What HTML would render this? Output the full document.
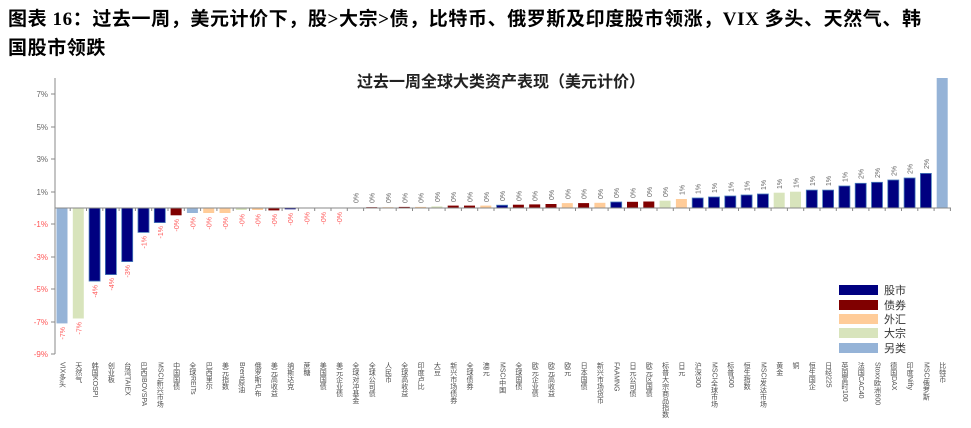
<!DOCTYPE html>
<html><head><meta charset="utf-8">
<style>
body{margin:0;width:971px;height:428px;background:#fff;position:relative;overflow:hidden;font-family:"Liberation Serif","Noto Serif CJK SC","Noto Sans CJK SC",serif;}
.h{position:absolute;left:8px;font-size:19px;letter-spacing:0.6px;font-weight:bold;color:#000;white-space:nowrap;font-family:"Liberation Serif","Noto Sans CJK SC",sans-serif;}
.xl{position:absolute;top:362px;writing-mode:vertical-rl;font-size:7px;color:#505050;font-family:"Liberation Sans","Noto Sans CJK SC",sans-serif;width:9px;line-height:9px;white-space:nowrap;}
</style></head><body>
<div class="h" style="top:4px">图表 16：过去一周，美元计价下，股&gt;大宗&gt;债，比特币、俄罗斯及印度股市领涨，VIX 多头、天然气、韩</div>
<div class="h" style="top:33px">国股市领跌</div>
<svg width="971" height="428" style="position:absolute;left:0;top:0" font-family="Liberation Sans, Noto Sans CJK SC, sans-serif">
<text x="501" y="87" font-size="16" font-weight="bold" text-anchor="middle" fill="#222">过去一周全球大类资产表现（美元计价）</text>
<g font-size="8" fill="#666" text-anchor="end">
<text x="48" y="97">7%</text><text x="48" y="130">5%</text><text x="48" y="162">3%</text><text x="48" y="195">1%</text>
<text x="48" y="227" fill="#f55">-1%</text><text x="48" y="260" fill="#f55">-3%</text><text x="48" y="292" fill="#f55">-5%</text><text x="48" y="325" fill="#f55">-7%</text><text x="48" y="357" fill="#f55">-9%</text>
</g>
<g stroke="#888" stroke-width="1">
<line x1="55" y1="78" x2="55" y2="354"/>
<line x1="51" y1="94" x2="55" y2="94"/><line x1="51" y1="127" x2="55" y2="127"/><line x1="51" y1="159" x2="55" y2="159"/><line x1="51" y1="192" x2="55" y2="192"/><line x1="51" y1="224" x2="55" y2="224"/><line x1="51" y1="257" x2="55" y2="257"/><line x1="51" y1="289" x2="55" y2="289"/><line x1="51" y1="322" x2="55" y2="322"/><line x1="51" y1="354" x2="55" y2="354"/>
</g>
<g stroke="#4a7ebb" stroke-width="0.8">
<rect x="56.5" y="208" width="11" height="115.4" fill="#95B3D7" stroke="none"/>
<rect x="72.8" y="208" width="11" height="110.5" fill="#D8E4BC" stroke="none"/>
<rect x="89.1" y="208" width="11" height="73.1" fill="#000080"/>
<rect x="105.4" y="208" width="11" height="66.6" fill="#000080"/>
<rect x="121.7" y="208" width="11" height="53.6" fill="#000080"/>
<rect x="138" y="208" width="11" height="24.4" fill="#000080"/>
<rect x="154.3" y="208" width="11" height="14.6" fill="#000080"/>
<rect x="170.6" y="208" width="11" height="7.3" fill="#800000" stroke="none"/>
<rect x="186.9" y="208" width="11" height="5" fill="#95B3D7" stroke="none"/>
<rect x="203.2" y="208" width="11" height="5" fill="#FFCC99" stroke="none"/>
<rect x="219.5" y="208" width="11" height="5" fill="#FFCC99" stroke="none"/>
<rect x="235.8" y="208" width="11" height="2" fill="#D8E4BC" stroke="none"/>
<rect x="252.1" y="208" width="11" height="2" fill="#FFCC99" stroke="none"/>
<rect x="268.4" y="208" width="11" height="2.4" fill="#800000" stroke="none"/>
<rect x="284.7" y="208" width="11" height="1.3" fill="#000080" stroke="none"/>
<rect x="349.9" y="207.5" width="11" height="0.5" fill="#95B3D7" stroke="none"/>
<rect x="366.2" y="207.2" width="11" height="0.8" fill="#800000" stroke="none"/>
<rect x="382.5" y="207.2" width="11" height="0.8" fill="#FFCC99" stroke="none"/>
<rect x="398.8" y="206.9" width="11" height="1.1" fill="#800000" stroke="none"/>
<rect x="415.1" y="206.9" width="11" height="1.1" fill="#FFCC99" stroke="none"/>
<rect x="431.4" y="206.4" width="11" height="1.6" fill="#D8E4BC" stroke="none"/>
<rect x="447.7" y="205.6" width="11" height="2.4" fill="#800000" stroke="none"/>
<rect x="464" y="205.6" width="11" height="2.4" fill="#800000" stroke="none"/>
<rect x="480.3" y="205.6" width="11" height="2.4" fill="#FFCC99" stroke="none"/>
<rect x="496.6" y="205.2" width="11" height="2.8" fill="#000080"/>
<rect x="512.9" y="204.7" width="11" height="3.3" fill="#800000" stroke="none"/>
<rect x="529.2" y="204.4" width="11" height="3.6" fill="#800000" stroke="none"/>
<rect x="545.5" y="204" width="11" height="4" fill="#800000" stroke="none"/>
<rect x="561.8" y="203.1" width="11" height="4.9" fill="#FFCC99" stroke="none"/>
<rect x="578.1" y="203.1" width="11" height="4.9" fill="#800000" stroke="none"/>
<rect x="594.4" y="202.8" width="11" height="5.2" fill="#FFCC99" stroke="none"/>
<rect x="610.7" y="202" width="11" height="6" fill="#000080"/>
<rect x="627" y="201.8" width="11" height="6.2" fill="#800000" stroke="none"/>
<rect x="643.3" y="201.5" width="11" height="6.5" fill="#800000" stroke="none"/>
<rect x="659.6" y="200.7" width="11" height="7.3" fill="#D8E4BC" stroke="none"/>
<rect x="675.9" y="199" width="11" height="9" fill="#FFCC99" stroke="none"/>
<rect x="692.2" y="198" width="11" height="10" fill="#000080"/>
<rect x="708.5" y="197" width="11" height="11" fill="#000080"/>
<rect x="724.8" y="196" width="11" height="12" fill="#000080"/>
<rect x="741.1" y="195" width="11" height="13" fill="#000080"/>
<rect x="757.4" y="194" width="11" height="14" fill="#000080"/>
<rect x="773.7" y="192.7" width="11" height="15.3" fill="#D8E4BC" stroke="none"/>
<rect x="790" y="191.7" width="11" height="16.3" fill="#D8E4BC" stroke="none"/>
<rect x="806.3" y="190.1" width="11" height="17.9" fill="#000080"/>
<rect x="822.6" y="190.1" width="11" height="17.9" fill="#000080"/>
<rect x="838.9" y="186" width="11" height="22" fill="#000080"/>
<rect x="855.2" y="183.3" width="11" height="24.7" fill="#000080"/>
<rect x="871.5" y="182.3" width="11" height="25.7" fill="#000080"/>
<rect x="887.8" y="180" width="11" height="28" fill="#000080"/>
<rect x="904.1" y="178" width="11" height="30" fill="#000080"/>
<rect x="920.4" y="173.4" width="11" height="34.6" fill="#000080"/>
<rect x="936.7" y="78" width="11" height="130" fill="#95B3D7" stroke="none"/>
</g>
<line x1="55" y1="208" x2="951" y2="208" stroke="#888" stroke-width="1"/>
<g stroke="#888" stroke-width="1">
<path d="M70.2 208v3M86.5 208v3M102.8 208v3M119.1 208v3M135.4 208v3M151.7 208v3M168 208v3M184.3 208v3M200.6 208v3M216.9 208v3M233.2 208v3M249.5 208v3M265.8 208v3M282.1 208v3M298.4 208v3M314.7 208v3M331 208v3M347.3 208v3M363.6 208v3M379.9 208v3M396.2 208v3M412.5 208v3M428.8 208v3M445.1 208v3M461.4 208v3M477.7 208v3M494 208v3M510.3 208v3M526.6 208v3M542.9 208v3M559.2 208v3M575.5 208v3M591.8 208v3M608.1 208v3M624.4 208v3M640.7 208v3M657 208v3M673.3 208v3M689.6 208v3M705.9 208v3M722.2 208v3M738.5 208v3M754.8 208v3M771.1 208v3M787.4 208v3M803.7 208v3M820 208v3M836.3 208v3M852.6 208v3M868.9 208v3M885.2 208v3M901.5 208v3M917.8 208v3M934.1 208v3M950.4 208v3"/>
</g>
<g font-size="7" fill="#ff5a5a" text-anchor="end">
<text transform="translate(65,327) rotate(-90)">-7%</text>
<text transform="translate(81.3,322) rotate(-90)">-7%</text>
<text transform="translate(97.6,285) rotate(-90)">-4%</text>
<text transform="translate(113.9,278) rotate(-90)">-4%</text>
<text transform="translate(130.2,265) rotate(-90)">-3%</text>
<text transform="translate(146.5,236) rotate(-90)">-1%</text>
<text transform="translate(162.8,226) rotate(-90)">-1%</text>
<text transform="translate(179.1,219) rotate(-90)">-0%</text>
<text transform="translate(195.4,217) rotate(-90)">-0%</text>
<text transform="translate(211.7,217) rotate(-90)">-0%</text>
<text transform="translate(228,217) rotate(-90)">-0%</text>
<text transform="translate(244.3,214) rotate(-90)">-0%</text>
<text transform="translate(260.6,214) rotate(-90)">-0%</text>
<text transform="translate(276.9,214) rotate(-90)">-0%</text>
<text transform="translate(293.2,213) rotate(-90)">-0%</text>
<text transform="translate(309.5,212) rotate(-90)">-0%</text>
<text transform="translate(325.8,212) rotate(-90)">-0%</text>
<text transform="translate(342.1,212) rotate(-90)">-0%</text>
</g>
<g font-size="7" fill="#666">
<text transform="translate(358.4,203) rotate(-90)">0%</text>
<text transform="translate(374.7,203) rotate(-90)">0%</text>
<text transform="translate(391,203) rotate(-90)">0%</text>
<text transform="translate(407.3,203) rotate(-90)">0%</text>
<text transform="translate(423.6,203) rotate(-90)">0%</text>
<text transform="translate(439.9,202) rotate(-90)">0%</text>
<text transform="translate(456.2,202) rotate(-90)">0%</text>
<text transform="translate(472.5,202) rotate(-90)">0%</text>
<text transform="translate(488.8,202) rotate(-90)">0%</text>
<text transform="translate(505.1,201) rotate(-90)">0%</text>
<text transform="translate(521.4,201) rotate(-90)">0%</text>
<text transform="translate(537.7,201) rotate(-90)">0%</text>
<text transform="translate(554,200) rotate(-90)">0%</text>
<text transform="translate(570.3,199) rotate(-90)">0%</text>
<text transform="translate(586.6,199) rotate(-90)">0%</text>
<text transform="translate(602.9,199) rotate(-90)">0%</text>
<text transform="translate(619.2,198) rotate(-90)">0%</text>
<text transform="translate(635.5,198) rotate(-90)">0%</text>
<text transform="translate(651.8,197) rotate(-90)">0%</text>
<text transform="translate(668.1,197) rotate(-90)">0%</text>
<text transform="translate(684.4,195) rotate(-90)">1%</text>
<text transform="translate(700.7,194) rotate(-90)">1%</text>
<text transform="translate(717,193) rotate(-90)">1%</text>
<text transform="translate(733.3,192) rotate(-90)">1%</text>
<text transform="translate(749.6,191) rotate(-90)">1%</text>
<text transform="translate(765.9,190) rotate(-90)">1%</text>
<text transform="translate(782.2,189) rotate(-90)">1%</text>
<text transform="translate(798.5,188) rotate(-90)">1%</text>
<text transform="translate(814.8,186) rotate(-90)">1%</text>
<text transform="translate(831.1,186) rotate(-90)">1%</text>
<text transform="translate(847.4,182) rotate(-90)">1%</text>
<text transform="translate(863.7,179) rotate(-90)">2%</text>
<text transform="translate(880,178) rotate(-90)">2%</text>
<text transform="translate(896.3,176) rotate(-90)">2%</text>
<text transform="translate(912.6,174) rotate(-90)">2%</text>
<text transform="translate(928.9,169) rotate(-90)">2%</text>
</g>
<g font-size="11" fill="#333">
<rect x="839" y="285" width="39" height="10" fill="#000080"/><text x="884" y="294">股市</text>
<rect x="839" y="300" width="39" height="10" fill="#800000"/><text x="884" y="309">债券</text>
<rect x="839" y="314" width="39" height="10" fill="#FFCC99"/><text x="884" y="323">外汇</text>
<rect x="839" y="328" width="39" height="10" fill="#D8E4BC"/><text x="884" y="337">大宗</text>
<rect x="839" y="343" width="39" height="10" fill="#95B3D7"/><text x="884" y="352">另类</text>
</g>
</svg>
<div class="xl" style="left:57.5px">VIX多头</div>
<div class="xl" style="left:73.8px">天然气</div>
<div class="xl" style="left:90.1px">韩国KOSPI</div>
<div class="xl" style="left:106.4px">创业板</div>
<div class="xl" style="left:122.7px">台湾TAIEX</div>
<div class="xl" style="left:139px">巴西IBOVSPA</div>
<div class="xl" style="left:155.3px">MSCI新兴市场</div>
<div class="xl" style="left:171.6px">中国国债</div>
<div class="xl" style="left:187.9px">全球REITs</div>
<div class="xl" style="left:204.2px">巴西里尔</div>
<div class="xl" style="left:220.5px">美元指数</div>
<div class="xl" style="left:236.8px">Brent原油</div>
<div class="xl" style="left:253.1px">俄罗斯卢布</div>
<div class="xl" style="left:269.4px">美元高收益</div>
<div class="xl" style="left:285.7px">纳斯达克</div>
<div class="xl" style="left:302px">蔗糖</div>
<div class="xl" style="left:318.3px">美国国债</div>
<div class="xl" style="left:334.6px">美元企业债</div>
<div class="xl" style="left:350.9px">全球对冲基金</div>
<div class="xl" style="left:367.2px">全球公司债</div>
<div class="xl" style="left:383.5px">人民币</div>
<div class="xl" style="left:399.8px">全球高收益</div>
<div class="xl" style="left:416.1px">印度卢比</div>
<div class="xl" style="left:432.4px">大豆</div>
<div class="xl" style="left:448.7px">新兴市场债券</div>
<div class="xl" style="left:465px">全球债券</div>
<div class="xl" style="left:481.3px">澳元</div>
<div class="xl" style="left:497.6px">MSCI中国</div>
<div class="xl" style="left:513.9px">全球国债</div>
<div class="xl" style="left:530.2px">欧元企业债</div>
<div class="xl" style="left:546.5px">欧元高收益</div>
<div class="xl" style="left:562.8px">欧元</div>
<div class="xl" style="left:579.1px">日本国债</div>
<div class="xl" style="left:595.4px">新兴市场货币</div>
<div class="xl" style="left:611.7px">FAAMNG</div>
<div class="xl" style="left:628px">日元公司债</div>
<div class="xl" style="left:644.3px">欧元区国债</div>
<div class="xl" style="left:660.6px">标普大宗商品指数</div>
<div class="xl" style="left:676.9px">日元</div>
<div class="xl" style="left:693.2px">沪深300</div>
<div class="xl" style="left:709.5px">MSCI全球市场</div>
<div class="xl" style="left:725.8px">标普500</div>
<div class="xl" style="left:742.1px">恒生指数</div>
<div class="xl" style="left:758.4px">MSCI发达市场</div>
<div class="xl" style="left:774.7px">黄金</div>
<div class="xl" style="left:791px">铜</div>
<div class="xl" style="left:807.3px">恒生国企</div>
<div class="xl" style="left:823.6px">日经225</div>
<div class="xl" style="left:839.9px">英国富时100</div>
<div class="xl" style="left:856.2px">法国CAC40</div>
<div class="xl" style="left:872.5px">Stoxx欧洲600</div>
<div class="xl" style="left:888.8px">德国DAX</div>
<div class="xl" style="left:905.1px">印度Nifty</div>
<div class="xl" style="left:921.4px">MSCI俄罗斯</div>
<div class="xl" style="left:937.7px">比特币</div>
</body></html>
